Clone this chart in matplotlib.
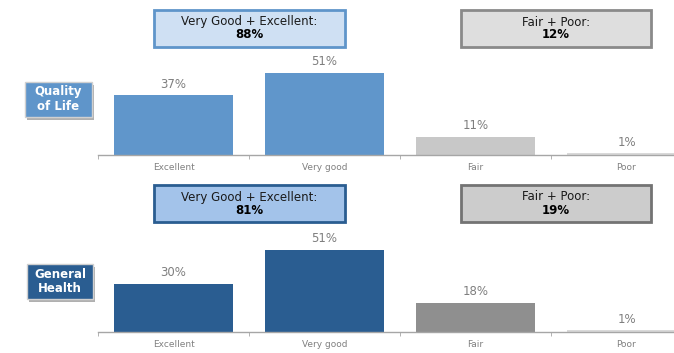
import matplotlib
matplotlib.use("Agg")
import matplotlib.pyplot as plt
from matplotlib.patches import Rectangle

categories = ["Excellent", "Very good", "Fair", "Poor"]

qol_values = [37, 51, 11, 1]
health_values = [30, 51, 18, 1]

qol_good = 88
qol_poor = 12
health_good = 81
health_poor = 19

W, H = 674, 353
fig = plt.figure(figsize=(W / 100, H / 100), dpi=100)


def px_box(x, y, w, h):
    # figure fraction from pixel coords (top-left origin)
    return [x / W, (H - y - h) / H, w / W, h / H]


def draw_rect(x, y, w, h, face, edge, lw=2.0, z=2):
    r = Rectangle((x / W, (H - y - h) / H), w / W, h / H,
                  transform=fig.transFigure, facecolor=face, edgecolor=edge,
                  linewidth=lw, zorder=z)
    fig.patches.append(r)


def summary_box(x, y, w, h, face, edge, title, value):
    draw_rect(x, y, w, h, face, edge)
    cx = (x + w / 2) / W
    fig.text(cx, (H - y - 12) / H, title, ha="center", va="center",
             fontsize=8.5, color="#1a1a1a", zorder=5)
    fig.text(cx, (H - y - 25) / H, f"{value}%", ha="center", va="center",
             fontsize=8.5, fontweight="bold", color="#000000", zorder=5)


def side_label(x, y, w, h, face, text):
    draw_rect(x + 2, y + 3, w, h, "#b0b0b0", "none", lw=0, z=1)
    draw_rect(x, y, w, h, face, "#d0d0d0", lw=1.0, z=2)
    fig.text((x + w / 2) / W, (H - y - h / 2) / H, text, ha="center",
             va="center", fontsize=8.5, fontweight="bold", color="white",
             linespacing=1.2, zorder=5)


def bar_panel(baseline_px, values, colors):
    height_px = 60 * 1.61
    ax = fig.add_axes(px_box(98, baseline_px - height_px, 604, height_px))
    xs = range(len(values))
    ax.bar(xs, values, width=0.79, color=colors, edgecolor="none")
    for x, v in zip(xs, values):
        ax.text(x, v + 3, f"{v}%", ha="center", va="bottom",
                fontsize=8.5, color="#7f7f7f", clip_on=False)
    ax.set_xlim(-0.5, 3.5)
    ax.set_ylim(0, 60)
    for side in ("top", "right", "left"):
        ax.spines[side].set_visible(False)
    ax.spines["bottom"].set_color("#a6a6a6")
    ax.spines["bottom"].set_linewidth(1.0)
    ax.set_yticks([])
    ax.set_xticks(list(xs))
    ax.set_xticklabels(categories, fontsize=6.5, color="#808080")
    ax.tick_params(axis="x", which="major", length=0, pad=6)
    ax.set_xticks([-0.5, 0.5, 1.5, 2.5, 3.5], minor=True)
    ax.tick_params(axis="x", which="minor", length=3, color="#a6a6a6")
    ax.patch.set_alpha(0)
    return ax


# Quality of Life
bar_panel(155, qol_values, ["#6096cb", "#6096cb", "#c8c8c8", "#d9d9d9"])
summary_box(154, 10, 191, 37, "#cfe0f3", "#5f95ca",
            "Very Good + Excellent:", qol_good)
summary_box(461, 10, 190, 37, "#dedede", "#8a8a8a", "Fair + Poor:", qol_poor)
side_label(25, 82, 67, 35, "#5f95ca", "Quality\nof Life")

# General Health
bar_panel(332, health_values, ["#2a5d91", "#2a5d91", "#8f8f8f", "#d9d9d9"])
summary_box(154, 185, 191, 37, "#a3c3ea", "#2a5d91",
            "Very Good + Excellent:", health_good)
summary_box(461, 185, 190, 37, "#cccccc", "#737373", "Fair + Poor:", health_poor)
side_label(27, 264, 66, 35, "#2a5d91", "General\nHealth")

fig.savefig("out.png", dpi=100)
